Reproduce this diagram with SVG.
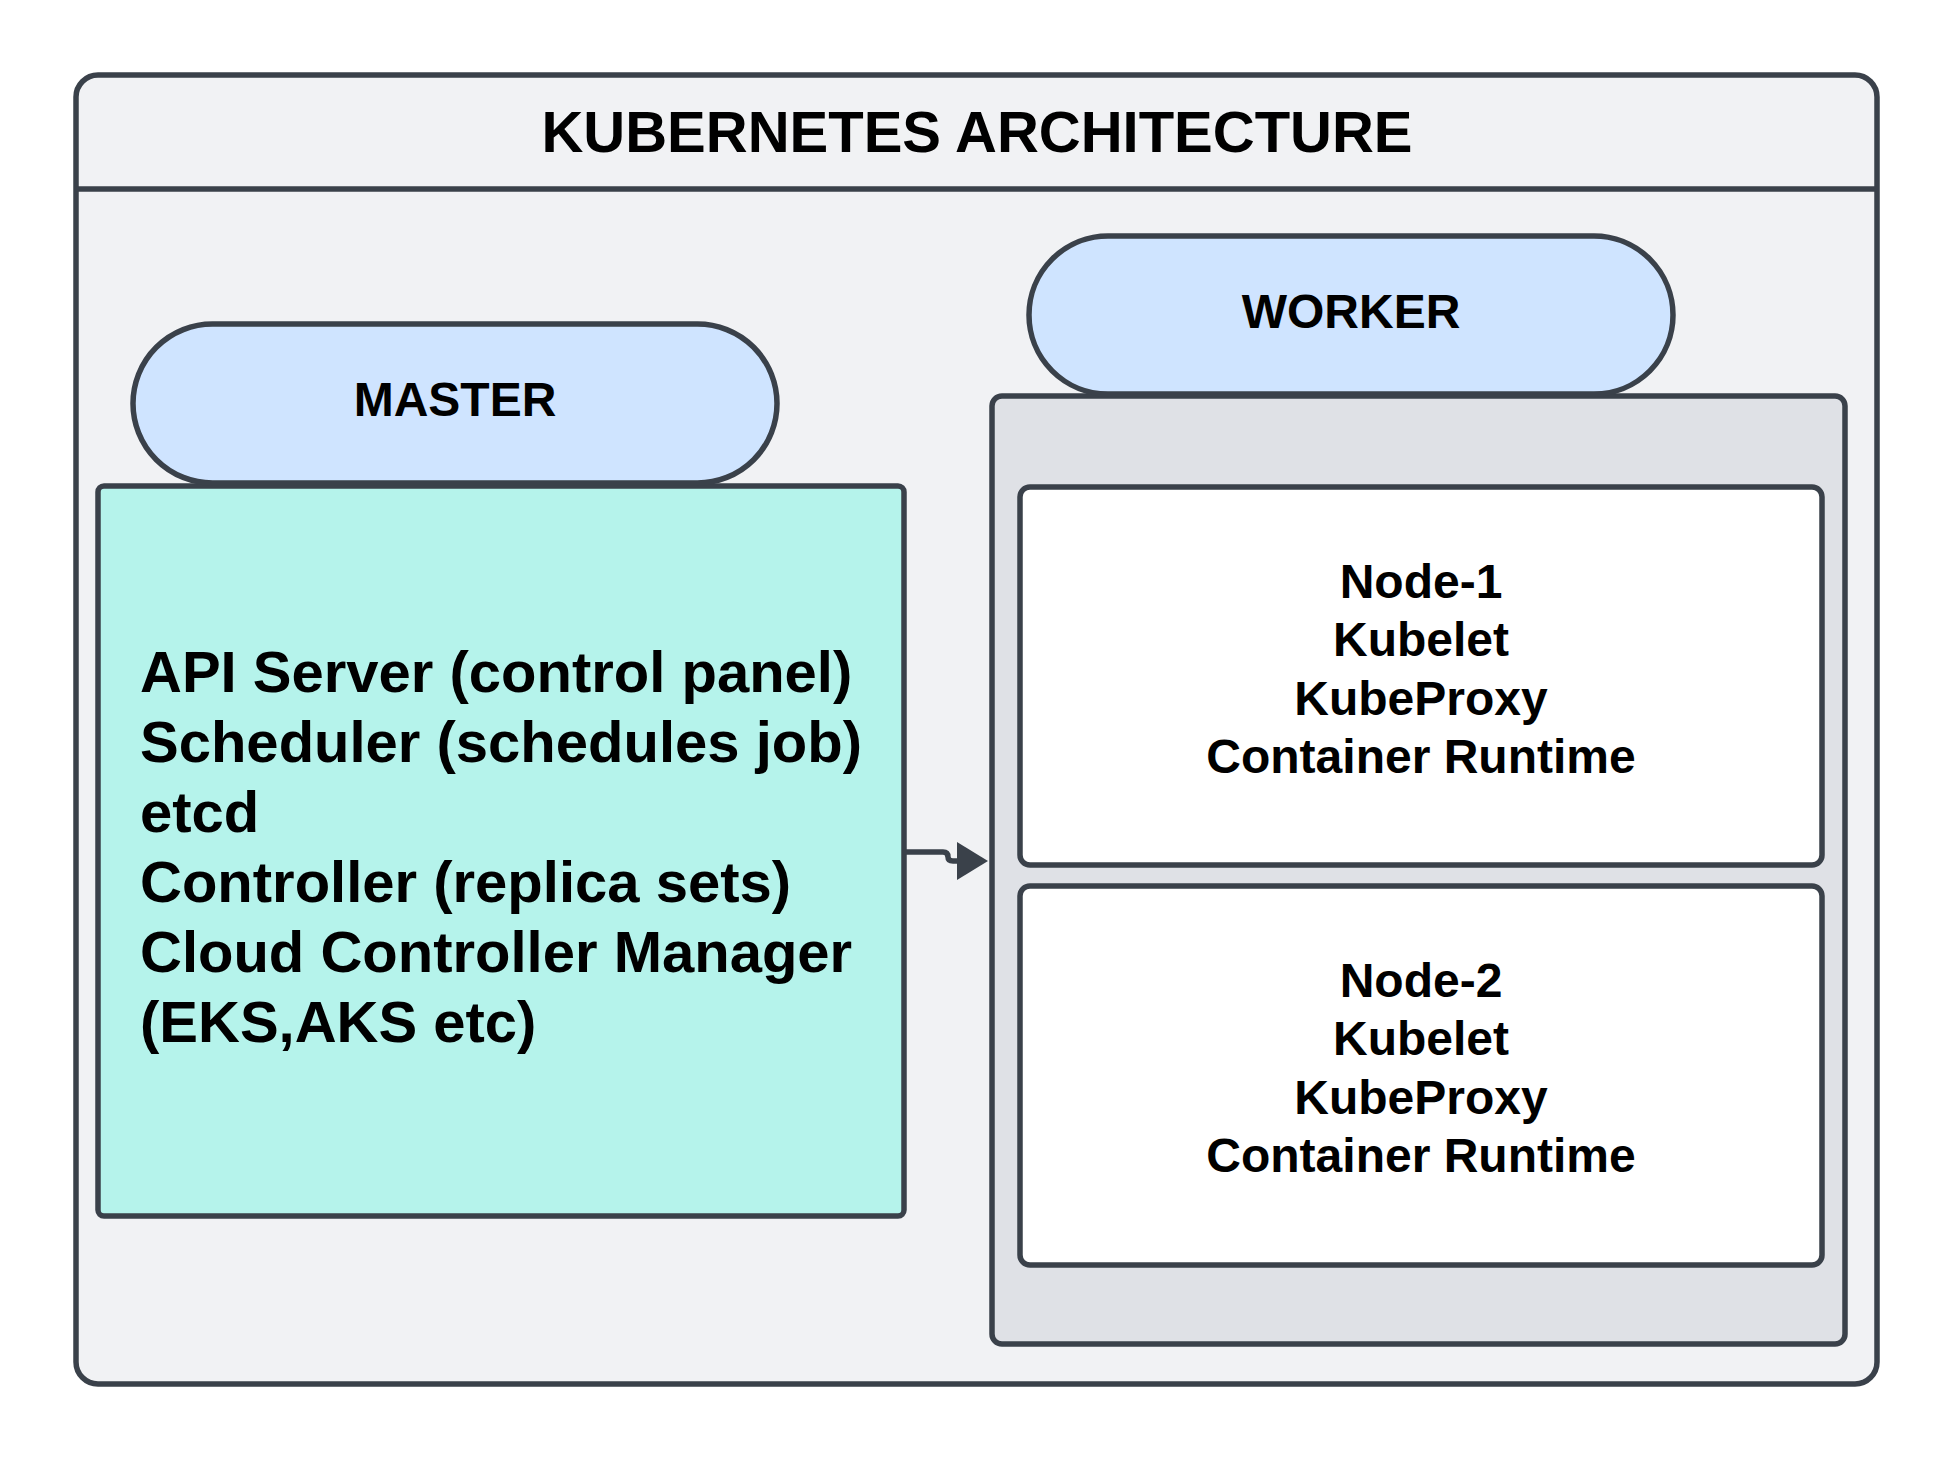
<svg xmlns="http://www.w3.org/2000/svg" width="1952" height="1461" viewBox="0 0 1952 1461">
<style>
.ln{stroke:#3a414a;stroke-width:5.5;}
.t{font-family:"Liberation Sans",Arial,sans-serif;font-weight:bold;fill:#000;}
.c{text-anchor:middle;}
</style>
<rect width="1952" height="1461" fill="#ffffff"/>
<g id="frame">
<rect class="ln" x="76" y="75" width="1801" height="1309" rx="22" fill="#f1f2f4"/>
<line class="ln" x1="76" y1="189" x2="1877" y2="189"/>
<text class="t c" x="977" y="152" font-size="58">KUBERNETES ARCHITECTURE</text>
</g>
<g id="master-box">
<rect class="ln" x="98" y="486" width="806" height="730" rx="6" fill="#b5f3eb"/>
<text class="t" x="140" y="692" font-size="58">API Server (control panel)</text>
<text class="t" x="140" y="762" font-size="58">Scheduler (schedules job)</text>
<text class="t" x="140" y="832" font-size="58">etcd</text>
<text class="t" x="140" y="902" font-size="58">Controller (replica sets)</text>
<text class="t" x="140" y="972" font-size="58">Cloud Controller Manager</text>
<text class="t" x="140" y="1042" font-size="58">(EKS,AKS etc)</text>
</g>
<g id="master-label">
<rect class="ln" x="133" y="324" width="644" height="159" rx="79.5" fill="#cfe4ff"/>
<text class="t c" x="455" y="416" font-size="48">MASTER</text>
</g>
<g id="worker-box">
<rect class="ln" x="992" y="396" width="853" height="948" rx="10" fill="#dfe1e6"/>
</g>
<g id="worker-label">
<rect class="ln" x="1029" y="236" width="644" height="158" rx="79" fill="#cfe4ff"/>
<text class="t c" x="1351" y="328" font-size="48">WORKER</text>
</g>
<g id="node-1">
<rect class="ln" x="1020" y="487" width="802" height="378" rx="10" fill="#ffffff"/>
<text class="t c" x="1421" y="598" font-size="48">Node-1</text>
<text class="t c" x="1421" y="656" font-size="48">Kubelet</text>
<text class="t c" x="1421" y="715" font-size="48">KubeProxy</text>
<text class="t c" x="1421" y="773" font-size="48">Container Runtime</text>
</g>
<g id="node-2">
<rect class="ln" x="1020" y="886" width="802" height="379" rx="10" fill="#ffffff"/>
<text class="t c" x="1421" y="997" font-size="48">Node-2</text>
<text class="t c" x="1421" y="1055" font-size="48">Kubelet</text>
<text class="t c" x="1421" y="1114" font-size="48">KubeProxy</text>
<text class="t c" x="1421" y="1172" font-size="48">Container Runtime</text>
</g>
<g id="connectors">
<path class="ln" fill="none" d="M904 852 H943 Q948 852 948 857 Q948 861 953 861 H960"/>
<polygon points="957,842 988,861 957,880" fill="#3a414a"/>
</g>
</svg>
